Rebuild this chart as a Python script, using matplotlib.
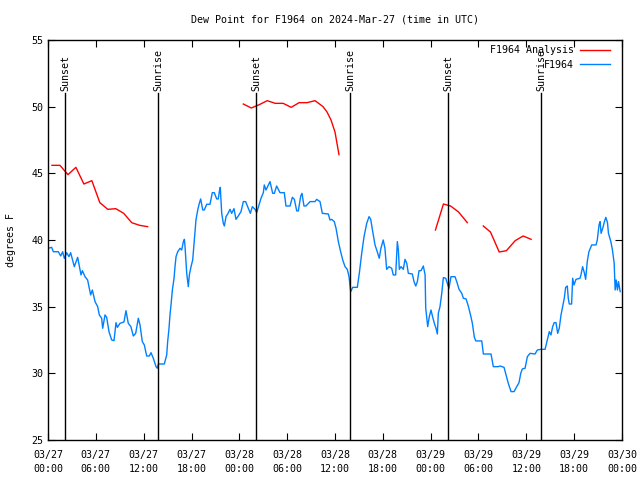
import numpy as np
from matplotlib import pyplot as plt

# hours since 2024-03-27 00:00 UTC
obs_hours = [0.04, 0.46, 0.67, 1.3, 1.59, 1.84, 2.05, 2.34, 2.63, 2.84, 3.3, 3.72, 4.14, 4.31, 4.64, 4.97,
             5.35, 5.56, 5.9, 6.23, 6.44, 6.73, 6.86, 7.15, 7.36, 7.65, 7.99, 8.28, 8.53, 8.7, 9.03, 9.53,
             9.78, 10.07, 10.4, 10.7, 11.0, 11.33, 11.54, 11.83, 12.08, 12.38, 12.71, 12.92, 13.21, 13.55,
             13.71, 13.84, 14.59, 14.89, 15.01, 15.18, 15.3, 15.43, 15.6, 15.81, 15.93, 16.06, 16.27, 16.56,
             16.77, 16.98, 17.11, 17.19, 17.4, 17.6, 17.73, 17.94, 18.15, 18.36, 18.56, 18.78, 18.98, 19.15,
             19.41, 19.6, 19.91, 20.32, 20.61, 20.86, 21.16, 21.36, 21.49, 21.61, 21.79, 21.99, 22.12, 22.33,
             22.54, 22.83, 23.04, 23.33, 23.58, 23.87, 24.21, 24.5, 24.79, 25.12, 25.38, 25.63, 25.97, 26.18,
             26.47, 26.72, 27.01, 27.13, 27.34, 27.64, 27.85, 28.18, 28.39, 28.68, 29.1, 29.64, 29.85, 30.36,
             30.65, 30.9, 31.2, 31.4, 31.7, 31.86, 32.11, 32.36, 32.87, 33.49, 33.7, 34.12, 34.41, 35.16,
             35.37, 35.58, 35.91, 36.13, 36.42, 36.71, 36.97, 37.26, 37.54, 37.76, 37.97, 38.22, 38.8, 39.05,
             39.35, 39.64, 39.98, 40.27, 40.48, 40.73, 41.02, 41.3, 41.55, 41.76, 42.05, 42.26, 42.48, 42.77,
             43.11, 43.31, 43.61, 43.82, 43.95, 44.07, 44.28, 44.57, 44.78, 45.0, 45.2, 45.7, 45.91, 46.13,
             46.33, 46.54, 46.79, 47.08, 47.3, 47.38, 47.54, 47.63, 47.83, 48.04, 48.26, 48.46, 48.67, 48.84,
             48.96, 49.17, 49.39, 49.59, 49.89, 50.09, 50.3, 50.55, 51.05, 51.27, 51.56, 51.9, 52.1, 52.44,
             52.72, 53.03, 53.23, 53.48, 53.66, 54.41, 54.61, 55.57, 55.86, 56.48, 56.7, 57.2, 57.45, 57.74,
             58.08, 58.46, 58.79, 59.08, 59.3, 59.5, 59.84, 60.13, 60.46, 61.09, 61.38, 61.8, 62.35, 62.63,
             62.88, 63.09, 63.3, 63.5, 63.72, 63.93, 64.13, 64.35, 64.56, 64.76, 64.93, 65.14, 65.26, 65.39,
             65.68, 65.81, 65.98, 66.23, 66.73, 66.85, 67.06, 67.27, 67.44, 67.64, 67.85, 68.2, 68.74, 68.9,
             69.12, 69.25, 69.38, 69.58, 69.8, 69.97, 70.18, 70.3, 70.6, 70.8, 71.02, 71.14, 71.27, 71.43,
             71.56, 71.77]
obs_dewpt = [39.38, 39.45, 39.12, 39.12, 38.8, 39.12, 38.62, 39.05, 38.75, 39.05, 38.0, 38.7, 37.38, 37.7, 37.25, 37.0,
             35.88, 36.25, 35.38, 35.0, 34.38, 34.13, 33.38, 34.38, 34.2, 33.12, 32.5, 32.45, 33.8, 33.45, 33.75, 33.85,
             34.7, 33.75, 33.5, 32.8, 33.0, 34.13, 33.63, 32.38, 32.13, 31.3, 31.3, 31.55, 31.13, 30.5,
             30.38, 30.7, 30.7, 31.38, 32.38, 33.38, 34.38, 35.13, 36.25, 37.13, 38.0, 38.75, 39.12, 39.38,
             39.25, 39.88, 40.05, 39.5, 37.5, 36.5, 37.38, 38.0, 38.5, 40.0, 41.5, 42.25, 42.75, 43.08,
             42.25, 42.25, 42.68, 42.68, 43.55, 43.55, 43.08, 43.08, 43.63, 43.95, 42.0, 41.25, 41.05, 41.75,
             41.95, 42.3, 42.0, 42.35, 41.55, 41.8, 42.13, 42.88, 42.88, 42.38, 42.0, 42.5, 42.3, 42.05,
             42.63, 43.13, 43.55, 44.13, 43.75, 44.13, 44.38, 43.5, 43.5, 44.05, 43.55, 43.55, 42.55, 42.55,
             43.2, 43.05, 42.18, 42.18, 43.3, 43.5, 42.55, 42.55, 42.88, 42.88, 43.05, 42.88, 42.0, 41.95,
             41.5, 41.55, 41.38, 40.88, 39.88, 39.12, 38.5, 38.0, 37.8, 37.25, 36.13, 36.45, 36.45, 37.5,
             39.0, 40.25, 41.25, 41.75, 41.55, 40.63, 39.63, 39.12, 38.63, 39.38, 40.0, 39.4, 37.8, 38.0,
             37.88, 37.38, 37.38, 39.88, 39.25, 37.8, 38.0, 37.8, 38.55, 38.25, 37.5, 37.45, 36.88, 36.55,
             36.88, 37.7, 37.7, 38.05, 37.38, 34.88, 34.0, 33.5, 34.25, 34.75, 34.2, 33.75, 33.38, 32.95,
             34.5, 35.0, 36.0, 37.18, 37.13, 36.75, 36.38, 37.25, 37.25, 36.88, 36.3, 36.0, 35.63, 35.58,
             35.05, 34.3, 33.75, 32.7, 32.43, 32.43, 31.45, 31.45, 30.5, 30.5, 30.55, 30.45, 29.88, 29.25,
             28.63, 28.63, 29.0, 29.3, 30.0, 30.33, 30.38, 31.25, 31.5, 31.45, 31.75, 31.8, 31.8, 32.5,
             33.13, 32.88, 33.5, 33.8, 33.8, 33.0, 33.38, 34.38, 35.0, 35.63, 36.45, 36.55, 35.63, 35.2,
             35.2, 37.13, 36.63, 37.05, 37.13, 37.38, 38.0, 37.55, 37.05, 38.38, 39.12, 39.63, 39.63, 40.0,
             41.13, 41.38, 40.5, 40.88, 41.38, 41.7, 41.3, 40.5, 39.88, 39.25, 38.25, 36.25, 37.0, 36.25,
             36.88, 36.13]

# analysis (hourly, NaN = missing)
ana_hours = [0.5, 1.5, 2.5, 3.5, 4.5, 5.5, 6.5, 7.5, 8.5, 9.5, 10.5, 11.5, 12.5, 13.5,
             24.5, 25.5, 26.5, 27.5, 28.5, 29.5, 30.5, 31.5, 32.5, 33.5, 34.5, 35.0, 35.5, 36.0, 36.5, 37.5,
             48.6, 49.6, 50.5, 51.5, 52.6, 53.5, 54.6, 55.5, 56.6, 57.5, 58.6, 59.6, 60.6]
ana_dewpt = [45.6, 45.6, 44.9, 45.45, 44.2, 44.45, 42.8, 42.3, 42.35, 42.0, 41.3, 41.1, 41.0, np.nan,
             50.2, 49.9, 50.15, 50.45, 50.25, 50.25, 49.95, 50.3, 50.3, 50.45, 50.0, 49.6, 49.0, 48.1, 46.4, np.nan,
             40.75, 42.7, 42.55, 42.1, 41.3, np.nan, 41.05, 40.6, 39.1, 39.2, 39.95, 40.3, 40.05]

sun_hours = [2.13, 13.8, 26.1, 37.9, 50.2, 61.9]
sun_labels = ['Sunset', 'Sunrise', 'Sunset', 'Sunrise', 'Sunset', 'Sunrise']

tick_hours = list(range(0, 73, 6))
tick_labels = ['03/27\n00:00', '03/27\n06:00', '03/27\n12:00', '03/27\n18:00',
               '03/28\n00:00', '03/28\n06:00', '03/28\n12:00', '03/28\n18:00',
               '03/29\n00:00', '03/29\n06:00', '03/29\n12:00', '03/29\n18:00',
               '03/30\n00:00']

plt.rcParams['font.family'] = ['DejaVu Sans Mono']
plt.rcParams['font.size'] = 7.2

fig = plt.figure(figsize=(6.4, 4.8), dpi=100)
ax: plt.Axes = fig.add_axes([48 / 640, 40 / 480, 574 / 640, 400 / 480])

ax.plot(ana_hours, ana_dewpt, color='#ff0000', lw=1.0, label='F1964 Analysis')
ax.plot(obs_hours, obs_dewpt, color='#0080ff', lw=1.0, label='F1964')

for t, name in zip(sun_hours, sun_labels):
    ax.plot([t, t], [25, 51.0], color='black', lw=1.0)
    ax.text(t, 51.2, name, rotation=90, ha='center', va='bottom')

ax.set_xlim(0, 72)
ax.set_ylim(25, 55)
ax.set_xticks(tick_hours, tick_labels)
for lbl in ax.get_xticklabels():
    lbl.set_linespacing(1.55)
ax.set_yticks(range(25, 56, 5))
ax.tick_params(direction='in', top=True, right=True, length=5, width=0.8, labelsize=7.2)
ax.tick_params(axis='x', pad=7)
for s in ax.spines.values():
    s.set_linewidth(1.0)

ax.set_ylabel('degrees F', labelpad=11)
fig.text(0.523, 1 - 19 / 480, 'Dew Point for F1964 on 2024-Mar-27 (time in UTC)',
         ha='center', va='center')

ax.legend(loc='upper right', bbox_to_anchor=(0.979, 0.987), frameon=False,
          markerfirst=False, handlelength=3.0, handletextpad=0.6,
          labelspacing=0.45, borderpad=0, borderaxespad=0)

fig.savefig('out.png')
plt.close()
